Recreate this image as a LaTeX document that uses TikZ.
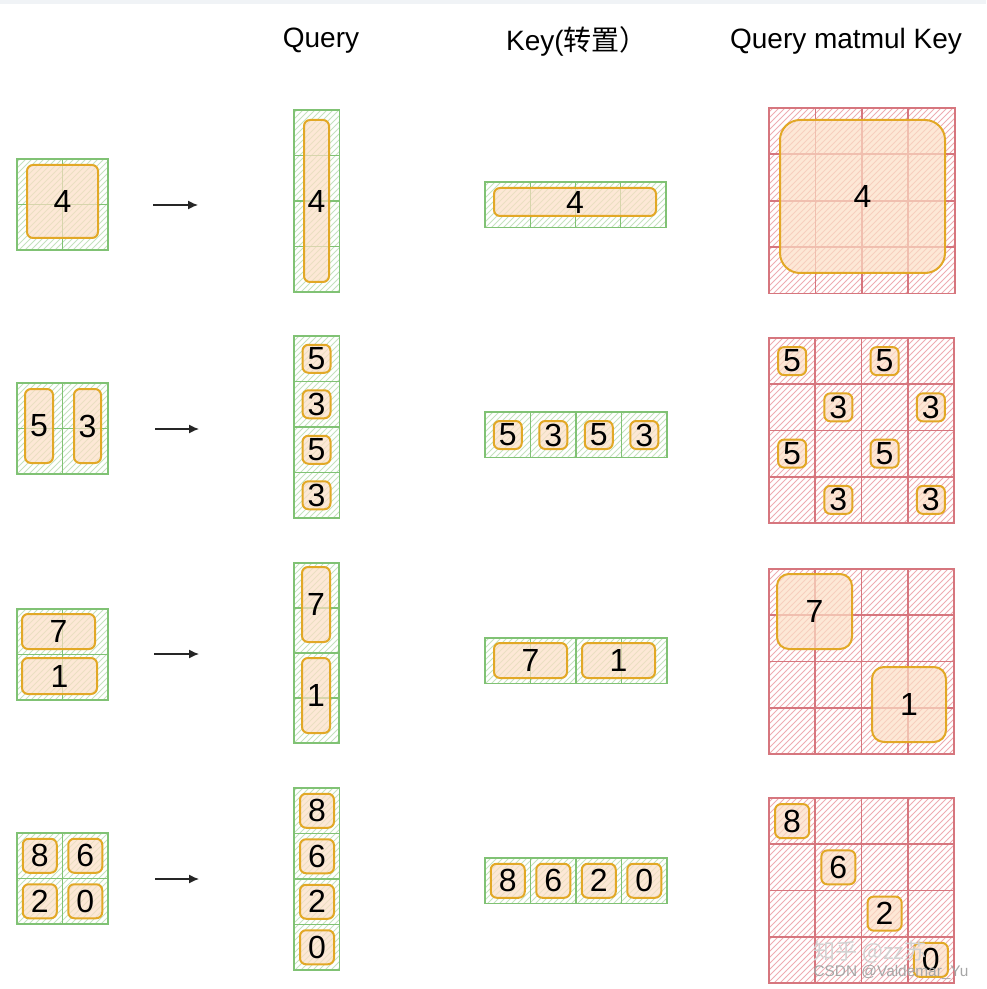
\documentclass[tikz,border=0pt]{standalone}
\usepackage{fontspec}
\setmainfont{Liberation Sans}
\newfontfamily\cjk{Noto Sans CJK SC}
\usetikzlibrary{arrows.meta,patterns}
\definecolor{gline}{RGB}{128,194,116}
\definecolor{ghatch}{RGB}{196,226,190}
\definecolor{rline}{RGB}{214,118,126}
\definecolor{rhatch}{RGB}{238,172,178}
\definecolor{oline}{RGB}{226,168,38}
\definecolor{ofill}{RGB}{252,222,196}
\definecolor{topgray}{RGB}{240,243,246}
\newcommand\digfont{\fontsize{16}{19}\selectfont}
\newcommand\cells[6]{\foreach \c in {1,...,#4}{\foreach \r in {1,...,#5}{\draw[#1] ({#2+(\c-1)*#6},{#3+(\r-1)*#6}) rectangle ++(#6,#6);}}}
\tikzset{
 gcell/.style={draw=gline,line width=.7pt,pattern=north east lines,pattern color=ghatch},
 rcell/.style={draw=rline,line width=.9pt,pattern=north east lines,pattern color=rhatch},
 obox/.style={draw=oline,line width=1pt,fill=ofill,fill opacity=.7,text opacity=1,rounded corners=3pt,inner sep=0pt,font=\digfont},
 sq/.style={obox,minimum width=14pt,minimum height=14pt},
 sqb/.style={obox,minimum width=17pt,minimum height=17pt},
 head/.style={font=\fontsize{14}{17}\selectfont}
}
\begin{document}
\begin{tikzpicture}[x=.5pt,y=-.5pt,>={Latex[length=5pt,width=4.5pt]}]
\useasboundingbox (0,0) rectangle (986,989);
\fill[topgray] (0,0) rectangle (986,4);
\node[head] (hq) at (321,41) {Query};
\node[head] (hk) at (577,41) {Key({\cjk 转置）}};
\node[head] (hr) at (846,41) {Query matmul Key};

\cells{gcell}{17}{159}{2}{2}{45.5}
\node[obox,minimum width=35.5pt,minimum height=36.5pt] (in1) at (62.5,201.5) {4};
\coordinate (a1) at (153,205); \coordinate (b1) at (198,205);
\draw[->,line width=.65pt,black!85] (a1)--(b1);
\cells{gcell}{294}{110}{1}{4}{45.5}
\node[obox,minimum width=12.5pt,minimum height=81pt] (q1) at (316.5,201) {4};
\cells{gcell}{485}{182}{4}{1}{45.25}
\node[obox,minimum width=81pt,minimum height=14pt] (k1) at (575,202) {4};
\cells{rcell}{769}{108}{4}{4}{46.4}
\node[obox,rounded corners=10pt,minimum width=82.5pt,minimum height=76.5pt] (r1) at (862.5,196.5) {4};

\cells{gcell}{17}{383}{2}{2}{45.5}
\node[obox,minimum width=14pt,minimum height=37pt] (in2a) at (39,426) {5};
\node[obox,minimum width=13.5pt,minimum height=37pt] (in2b) at (87.5,426) {3};
\coordinate (a2) at (155,429); \coordinate (b2) at (199,429);
\draw[->,line width=.65pt,black!85] (a2)--(b2);
\cells{gcell}{294}{336}{1}{4}{45.5}
\foreach \r/\v in {0/5,1/3,2/5,3/3} \node[sq] (q2\r) at (316.5,{358.75+45.5*\r}) {\v};
\cells{gcell}{485}{412}{4}{1}{45.5}
\foreach \c/\v in {0/5,1/3,2/5,3/3} \node[sq] (k2\c) at ({507.75+45.5*\c},435) {\v};
\cells{rcell}{769}{338}{4}{4}{46.25}
\foreach \c/\r/\v in {0/0/5,2/0/5,1/1/3,3/1/3,0/2/5,2/2/5,1/3/3,3/3/3}
 \node[sq] (r2\c\r) at ({792.1+46.25*\c},{361.1+46.25*\r}) {\v};

\cells{gcell}{17}{609}{2}{2}{45.5}
\node[obox,minimum width=36.5pt,minimum height=17.5pt] (in3a) at (58.5,631.5) {7};
\node[obox,minimum width=37.5pt,minimum height=18pt] (in3b) at (59.5,676) {1};
\coordinate (a3) at (154,654); \coordinate (b3) at (199,654);
\draw[->,line width=.65pt,black!85] (a3)--(b3);
\cells{gcell}{294}{563}{1}{4}{45}
\node[obox,minimum width=14pt,minimum height=37.5pt] (q3a) at (316,604.5) {7};
\node[obox,minimum width=14pt,minimum height=37.5pt] (q3b) at (316,695.5) {1};
\cells{gcell}{485}{638}{4}{1}{45.5}
\node[obox,minimum width=36.5pt,minimum height=17.5pt] (k3a) at (530.5,660.5) {7};
\node[obox,minimum width=36.5pt,minimum height=17.5pt] (k3b) at (618.5,660.5) {1};
\cells{rcell}{769}{569}{4}{4}{46.25}
\node[obox,rounded corners=6pt,minimum width=37.5pt,minimum height=37.5pt] (r3a) at (814.5,611.5) {7};
\node[obox,rounded corners=6pt,minimum width=37pt,minimum height=37.5pt] (r3b) at (909,704.5) {1};

\cells{gcell}{17}{833}{2}{2}{45.5}
\foreach \c/\r/\v in {0/0/8,1/0/6,0/1/2,1/1/0} \node[sqb] (in4\c\r) at ({39.75+45.5*\c},{855.75+45.5*\r}) {\v};
\coordinate (a4) at (155,879); \coordinate (b4) at (199,879);
\draw[->,line width=.65pt,black!85] (a4)--(b4);
\cells{gcell}{294}{788}{1}{4}{45.5}
\foreach \r/\v in {0/8,1/6,2/2,3/0} \node[sqb] (q4\r) at (317,{810.75+45.5*\r}) {\v};
\cells{gcell}{485}{858}{4}{1}{45.5}
\foreach \c/\v in {0/8,1/6,2/2,3/0} \node[sqb] (k4\c) at ({507.75+45.5*\c},880.75) {\v};
\cells{rcell}{769}{798}{4}{4}{46.25}
\foreach \i/\v in {0/8,1/6,2/2,3/0} \node[sqb] (r4\i) at ({792.1+46.25*\i},{821.1+46.25*\i}) {\v};

\node[text=gray!35,font=\fontsize{11}{13}\selectfont] (wm1) at (870,952) {\cjk 知乎 @zz苏};
\node[text=gray!70,font=\fontsize{7.7}{9}\selectfont] (wm2) at (891,972) {CSDN @Valdemar\_Yu};
\end{tikzpicture}
\end{document}
